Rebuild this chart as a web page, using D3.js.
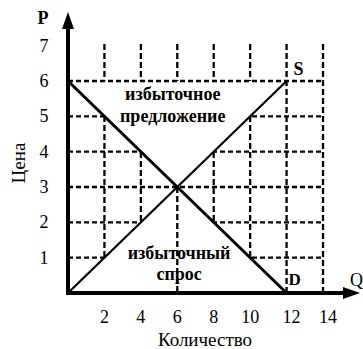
<!DOCTYPE html>
<html>
<head>
<meta charset="utf-8">
<script src="https://cdn.jsdelivr.net/npm/d3@7"></script>
<style>
  body { margin: 0; background: #fff; }
  svg { display: block; }
</style>
</head>
<body>
<script>
// data
var qTicks = [2, 4, 6, 8, 10, 12, 14];
var pTicks = [1, 2, 3, 4, 5, 6, 7];
var gridP = [1, 2, 3, 4, 5];
var topP = 6;
var demand = [{q: 0, p: 6}, {q: 12, p: 0}];
var supply = [{q: 0, p: 0}, {q: 12, p: 6}];
var equilibrium = {q: 6, p: 3};
var gridTop = 7.1;
var surplusText = ["избыточное", "предложение"];
var shortageText = ["избыточный", "спрос"];

var W = 363, H = 349;
var svg = d3.select("body").append("svg")
  .attr("width", W)
  .attr("height", H)
  .attr("font-family", "'Liberation Serif', 'Times New Roman', Times, serif");

var x = d3.scaleLinear().domain([0, 14]).range([68, 323]);
var y = d3.scaleLinear().domain([0, 6]).range([293, 81]);

var grid = svg.append("g")
  .attr("stroke", "#000")
  .attr("stroke-width", 2.3)
  .attr("fill", "none");

// vertical dashed lines
grid.selectAll(".v").data(qTicks).enter()
  .append("line")
  .attr("x1", d => x(d)).attr("x2", d => x(d))
  .attr("y1", y(0)).attr("y2", y(gridTop))
  .attr("stroke-dasharray", "6,3");

// horizontal dashed lines
grid.selectAll(".h").data(gridP).enter()
  .append("line")
  .attr("x1", x(0)).attr("x2", x(14))
  .attr("y1", d => y(d)).attr("y2", d => y(d))
  .attr("stroke-dasharray", "5,3");

// the two triangles are kept clear of the grid
var topTri = [demand[0], supply[1], equilibrium];
var botTri = [supply[0], demand[1], equilibrium];
svg.selectAll(".tri").data([topTri, botTri]).enter()
  .append("polygon")
  .attr("points", d => d.map(v => x(v.q) + "," + y(v.p)).join(" "))
  .attr("fill", "#fff");

// price 6 line and the drop line from equilibrium
var grid2 = svg.append("g")
  .attr("stroke", "#000")
  .attr("stroke-width", 2.3)
  .attr("fill", "none");
grid2.append("line")
  .attr("x1", x(0)).attr("x2", x(14))
  .attr("y1", y(topP)).attr("y2", y(topP))
  .attr("stroke-dasharray", "5,3");
grid2.append("line")
  .attr("x1", x(equilibrium.q)).attr("x2", x(equilibrium.q))
  .attr("y1", y(equilibrium.p)).attr("y2", y(0))
  .attr("stroke-dasharray", "6,3");

var line = d3.line().x(d => x(d.q)).y(d => y(d.p));
svg.append("path").datum(demand)
  .attr("d", line)
  .attr("stroke", "#000").attr("stroke-width", 3).attr("fill", "none");
svg.append("path").datum(supply)
  .attr("d", line)
  .attr("stroke", "#000").attr("stroke-width", 2.2).attr("fill", "none");

// axes with arrows
svg.append("line")
  .attr("x1", x(0)).attr("x2", x(0))
  .attr("y1", y(0) + 2).attr("y2", 26)
  .attr("stroke", "#000").attr("stroke-width", 4);
svg.append("path")
  .attr("d", "M" + (x(0) - 6) + ",29 L" + x(0) + ",12 L" + (x(0) + 6) + ",29 Z")
  .attr("fill", "#000");
svg.append("line")
  .attr("x1", x(0) - 2).attr("x2", 346)
  .attr("y1", y(0)).attr("y2", y(0))
  .attr("stroke", "#000").attr("stroke-width", 4);
svg.append("path")
  .attr("d", "M343," + (y(0) - 6) + " L360," + y(0) + " L343," + (y(0) + 6) + " Z")
  .attr("fill", "#000");

// tick labels
svg.selectAll(".qt").data(qTicks).enter()
  .append("text")
  .attr("x", d => x(d) + (d >= 12 ? 5 : 0))
  .attr("y", 323)
  .attr("text-anchor", "middle")
  .attr("font-size", 18)
  .text(d => d);
svg.selectAll(".pt").data(pTicks).enter()
  .append("text")
  .attr("x", 44)
  .attr("y", d => y(d) + 6)
  .attr("text-anchor", "middle")
  .attr("font-size", 18)
  .text(d => d);

// axis names
svg.append("text").attr("x", 43).attr("y", 24)
  .attr("text-anchor", "middle").attr("font-size", 18).attr("font-weight", "bold")
  .text("P");
svg.append("text").attr("x", 350).attr("y", 286)
  .attr("font-size", 18)
  .text("Q");
svg.append("text").attr("x", 205).attr("y", 346)
  .attr("text-anchor", "middle").attr("font-size", 19)
  .text("Количество");
svg.append("text")
  .attr("transform", "translate(25,163) rotate(-90)")
  .attr("text-anchor", "middle").attr("font-size", 19)
  .text("Цена");

// curve names
svg.append("text").attr("x", x(12) + 7).attr("y", y(6) - 6)
  .attr("font-size", 18).attr("font-weight", "bold")
  .text("S");
svg.append("text").attr("x", x(12) + 2).attr("y", y(0) - 8)
  .attr("font-size", 17).attr("font-weight", "bold")
  .text("D");

// region labels
function regionLabel(lines, cx, ys) {
  svg.selectAll(null).data(lines).enter()
    .append("text")
    .attr("x", cx)
    .attr("y", (d, i) => ys[i])
    .attr("text-anchor", "middle")
    .attr("font-size", 18)
    .attr("font-weight", "bold")
    .text(d => d);
}
regionLabel(surplusText, x(5.75), [y(5.45), y(4.84)]);
regionLabel(shortageText, x(6.1), [y(0.95), y(0.38)]);
</script>
</body>
</html>
